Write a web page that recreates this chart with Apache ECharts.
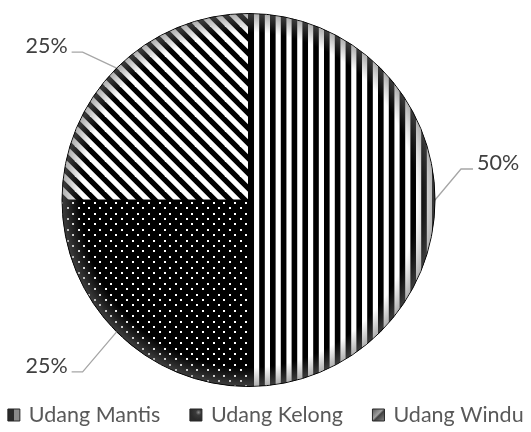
<!DOCTYPE html>
<html>
<head>
<meta charset="utf-8">
<script src="https://cdn.jsdelivr.net/npm/echarts@6/dist/echarts.min.js"></script>
<style>
  html, body { margin: 0; padding: 0; background: #fff; }
  #chart { width: 531px; height: 432px; }
</style>
</head>
<body>
<div id="chart"></div>
<script>
const categories = ['Udang Mantis', 'Udang Kelong', 'Udang Windu'];
const values = [50, 25, 25];

// leader line shape per slice: [dx to elbow, dy to elbow, horizontal run]
const leaderOffsets = [[26, -31, 12], [-34, 40, -11], [-34, -16, -11]];

const cx = 248.5, cy = 200, R = 186.5;
const FONT = 'Lato';

// --- fill patterns ---
function makeTile(w, h, draw) {
    const c = document.createElement('canvas');
    c.width = w; c.height = h;
    const ctx = c.getContext('2d');
    draw(ctx, w, h);
    return c;
}

// wide vertical stripes
const stripesV = makeTile(54, 8, (ctx, w, h) => {
    ctx.fillStyle = '#fff';
    ctx.fillRect(0, 0, w, h);
    ctx.fillStyle = '#000';
    const p = w / 5;
    for (let i = 0; i < 5; i++) ctx.fillRect(i * p, 0, p * 0.52, h);
});

// white dots on black
const dots = makeTile(54, 54, (ctx, w, h) => {
    ctx.fillStyle = '#000';
    ctx.fillRect(0, 0, w, h);
    ctx.fillStyle = '#fff';
    const p = w / 5;
    for (let j = 0; j < 10; j++) {
        for (let i = 0; i < 5; i++) {
            const x = i * p + (j % 2 ? p / 2 : 0) + 2;
            const y = j * p / 2 + 2;
            ctx.fillRect(Math.round(x), Math.round(y), 2, 2);
        }
    }
});

// wide downward diagonal
const diag = makeTile(15, 15, (ctx, w, h) => {
    ctx.fillStyle = '#fff';
    ctx.fillRect(0, 0, w, h);
    ctx.strokeStyle = '#000';
    ctx.lineWidth = w / Math.SQRT2 / 2;
    for (let k = -1; k <= 1; k++) {
        ctx.beginPath();
        ctx.moveTo(k * w - 2, -2);
        ctx.lineTo(k * w + w + 2, h + 2);
        ctx.stroke();
    }
});

const patterns = [stripesV, dots, diag];

// small legend swatches (the pattern shrunk down reads as grey)
const legendColors = [
    { type: 'linear', x: 0, y: 0, x2: 1, y2: 0, colorStops: [
        { offset: 0, color: '#2a2a2a' }, { offset: 0.5, color: '#2a2a2a' },
        { offset: 0.5, color: '#8a8a8a' }, { offset: 1, color: '#8a8a8a' }] },
    { type: 'radial', x: 0.7, y: 0.3, r: 0.6, colorStops: [
        { offset: 0, color: '#8a8a8a' }, { offset: 0.35, color: '#3a3a3a' }, { offset: 1, color: '#2a2a2a' }] },
    { type: 'linear', x: 0, y: 0, x2: 1, y2: 1, colorStops: [
        { offset: 0, color: '#505050' }, { offset: 0.45, color: '#a0a0a0' },
        { offset: 0.55, color: '#404040' }, { offset: 1, color: '#909090' }] }
];

const total = values.reduce((a, b) => a + b, 0);
function edgePoint(i) {
    let before = 0;
    for (let k = 0; k < i; k++) before += values[k];
    const a = (before + values[i] / 2) / total * Math.PI * 2;
    return [cx + R * Math.sin(a), cy - R * Math.cos(a)];
}

const chart = echarts.init(document.getElementById('chart'), null, { renderer: 'canvas' });

const option = {
    animation: false,
    legend: {
        data: categories.map((name, i) => ({
            name,
            itemStyle: { color: legendColors[i], borderColor: '#262626', borderWidth: 1 }
        })),
        bottom: 1,
        left: 'center',
        itemWidth: 12,
        itemHeight: 12,
        itemGap: 29,
        icon: 'rect',
        textStyle: { fontFamily: FONT, fontSize: 21.5, color: '#595959', padding: [0, 0, 0, 4] }
    },
    series: [
        {
            type: 'pie',
            center: [cx, cy],
            radius: [0, R],
            startAngle: 90,
            clockwise: true,
            data: categories.map((name, i) => ({
                name,
                value: values[i],
                itemStyle: { color: { image: patterns[i], repeat: 'repeat' } }
            })),
            itemStyle: { borderColor: '#000', borderWidth: 1 },
            emphasis: { disabled: true },
            label: {
                show: true,
                position: 'outside',
                overflow: 'none',
                formatter: p => Math.round(p.percent) + '%',
                fontFamily: FONT,
                fontSize: 21.5,
                color: '#404040'
            },
            labelLine: {
                show: true,
                lineStyle: { color: '#a6a6a6', width: 1.3 }
            },
            labelLayout: function (params) {
                const i = params.dataIndex;
                const e = edgePoint(i);
                const o = leaderOffsets[i];
                const mid = [e[0] + o[0], e[1] + o[1]];
                const end = [mid[0] + o[2], mid[1]];
                const right = o[2] > 0;
                return {
                    x: end[0] + (right ? 4 : -4),
                    y: end[1] - 6,
                    align: right ? 'left' : 'right',
                    verticalAlign: 'middle',
                    labelLinePoints: [e, mid, end]
                };
            }
        },
        {
            // soft edge shading
            type: 'pie',
            center: [cx, cy],
            radius: [0, R - 0.5],
            silent: true,
            z: 3,
            label: { show: false },
            labelLine: { show: false },
            data: [{
                name: '',
                value: 1,
                itemStyle: {
                    color: {
                        type: 'radial', x: 0.5, y: 0.5, r: 0.5,
                        colorStops: [
                            { offset: 0, color: 'rgba(110,110,110,0)' },
                            { offset: 0.9, color: 'rgba(110,110,110,0)' },
                            { offset: 1, color: 'rgba(110,110,110,0.55)' }
                        ]
                    }
                }
            }]
        }
    ]
};

chart.setOption(option);
</script>
</body>
</html>
